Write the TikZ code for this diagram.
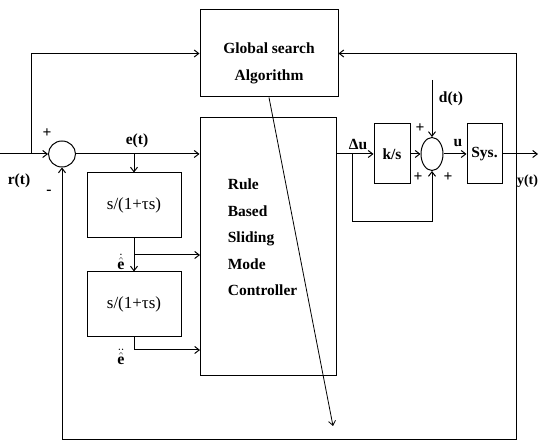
\documentclass[tikz,border=0pt]{standalone}
\usepackage{amsmath}
\usepackage{fontspec}
\setmainfont{Liberation Serif}
\usetikzlibrary{arrows.meta,calc,positioning,shapes.geometric}
\tikzset{
  blk/.style={draw,rectangle,inner sep=0pt},
  sumj/.style={draw,ellipse,inner sep=0pt},
  lbl/.style={inner sep=1pt},
}

\begin{document}
\begin{tikzpicture}[x=1pt,y=-1pt,>={Straight Barb[length=4.5pt,width=7pt]},line width=1pt,
  font=\fontsize{15.5}{17}\selectfont\bfseries]
\useasboundingbox (0,0) rectangle (539,443);
% blocks
\node[blk,minimum width=138pt,minimum height=87pt] (gsa) at (269,53.5) {};
\node[align=center,font=\fontsize{15.5}{27}\selectfont\bfseries] (gsatxt) at (269,63) {Global search\\Algorithm};
\node[blk,minimum width=136pt,minimum height=258pt] (rbc) at (268,247) {};
\node[align=left,anchor=north west,font=\fontsize{15.5}{26.5}\selectfont\bfseries] (rbctxt) at (224,175)
  {Rule\\Based\\Sliding\\Mode\\Controller};
\node[blk,minimum width=94pt,minimum height=65pt,font=\fontsize{17}{18}\selectfont] (d1) at (134,205.5) {s/(1+τs)};
\node[blk,minimum width=94pt,minimum height=65pt,font=\fontsize{17}{18}\selectfont] (d2) at (134,304.5) {s/(1+τs)};
\node[blk,minimum width=36pt,minimum height=60pt] (ks) at (392,154) {k/s};
\node[blk,minimum width=35pt,minimum height=60pt] (sys) at (484.5,154) {Sys.};
% summing junctions
\node[sumj,minimum width=27pt,minimum height=26pt] (sum1) at (62,154) {};
\node[sumj,minimum width=22pt,minimum height=33pt] (sum2) at (432,154) {};
% free ends and branch points
\coordinate (rin) at (0,154);
\coordinate (j1) at (31,154);
\coordinate (j2) at (134,154);
\coordinate (j3) at (134,255);
\coordinate (in2) at (200,255);
\coordinate (in3) at (200,350);
\coordinate (j5) at (352,154);
\coordinate (j6) at (432,222);
\coordinate (dt) at (432,80);
\coordinate (j7) at (516,154);
\coordinate (j8) at (516,440);
\coordinate (yout) at (538,154);
\coordinate (tip) at (333,426);
% signal paths
\draw[->] (rin) -- (sum1);
\draw[->] (j1) |- (gsa.west);
\draw[->] (sum1) -- (sum1 -| rbc.west);
\draw[->] (j2) -- (d1);
\draw[->] (d1) -- (d2);
\draw[->] (j3) -- (in2);
\draw[->] (d2.south) |- (in3);
\draw[->] (rbc.east |- ks.west) -- (ks);
\draw[->] (j5) |- (j6) -- (sum2);
\draw[->] (ks) -- (sum2);
\draw[->] (dt) -- (sum2);
\draw[->] (sum2) -- (sys);
\draw[->] (sys) -- (yout);
% feedback
\draw[->] (j7) |- (gsa.east);
\draw[->] (j7) -- (j8) -| (sum1);
% tuning arrow
\draw[->,line width=0.8pt] (gsa.south) -- (tip);
% labels
\node[lbl] (lp1) at (47,133) {+};
\node[lbl] (lm1) at (49,192) {-};
\node[lbl] (lr) at (19,181) {r(t)};
\node[lbl] (le) at (137,141) {e(t)};
\node[lbl,font=\fontsize{16}{17}\selectfont] (le1) at (121,262) {$\dot{\hat{\mathbf{e}}}$};
\node[lbl,font=\fontsize{16}{17}\selectfont] (le2) at (121,357) {$\ddot{\hat{\mathbf{e}}}$};
\node[lbl] (ldu) at (358,144) {Δu};
\node[lbl] (ld) at (451,99) {d(t)};
\node[lbl] (lp2) at (420,128) {+};
\node[lbl] (lp3) at (418,177) {+};
\node[lbl] (lp4) at (448,177) {+};
\node[lbl] (lu) at (458,143) {u};
\node[inner sep=0pt,anchor=east,font=\fontsize{14}{15}\selectfont\bfseries] (ly) at (538.5,181) {y(t)};
\end{tikzpicture}
\end{document}
